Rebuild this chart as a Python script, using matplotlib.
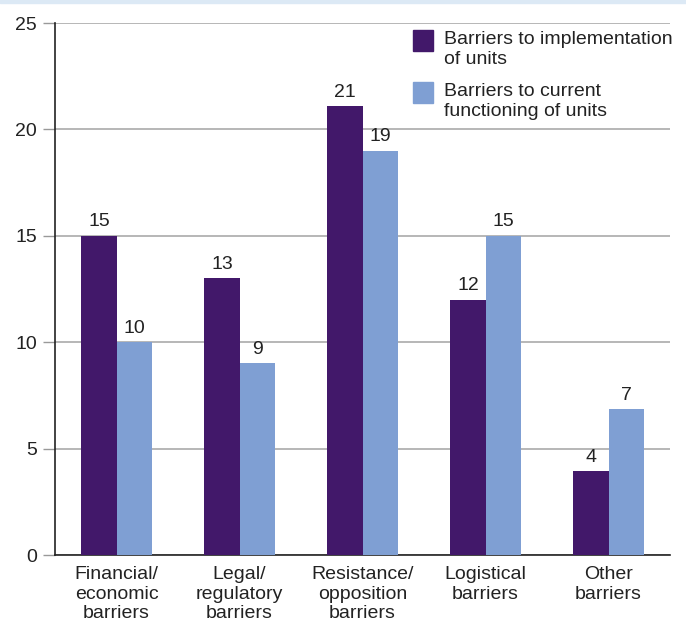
import numpy as np
import matplotlib
matplotlib.use("Agg")
import matplotlib.pyplot as plt
from matplotlib.patches import Rectangle

plt.rcParams['font.family'] = ['Liberation Sans', 'DejaVu Sans']

# data
categories = ["Financial/\neconomic\nbarriers", "Legal/\nregulatory\nbarriers",
              "Resistance/\nopposition\nbarriers", "Logistical\nbarriers",
              "Other\nbarriers"]
implementation = [15, 13, 21.1, 12, 3.95]
functioning = [10, 9, 19, 15, 6.85]
impl_labels = ["15", "13", "21", "12", "4"]
func_labels = ["10", "9", "19", "15", "7"]
series_names = ["Barriers to implementation\nof units",
                "Barriers to current\nfunctioning of units"]
yticks = [0, 5, 10, 15, 20, 25]

c_dark = "#42186a"
c_light = "#7f9fd3"
txt = "#222222"

W, H = 686, 625
fig = plt.figure(figsize=(W / 100, H / 100), dpi=100)
ax = fig.add_axes([55 / W, 70 / H, 615 / W, 532 / H])

def fx(px):
    return px / W

def fy(py):
    # py measured from the top of the image
    return 1 - py / H

# light band at the very top
fig.patches.append(Rectangle((0, fy(3)), 1, 3 / H, transform=fig.transFigure,
                             color="#dce9f5", zorder=0))

x = np.arange(len(categories)) + 0.5
w = 0.285
b1 = ax.bar(x - w / 2, implementation, w, color=c_dark, zorder=3)
b2 = ax.bar(x + w / 2, functioning, w, color=c_light, zorder=3)

for bars, labs in ((b1, impl_labels), (b2, func_labels)):
    for r, t in zip(bars, labs):
        ax.text(r.get_x() + r.get_width() / 2, r.get_height() + 0.25, t,
                ha="center", va="bottom", fontsize=14, color=txt)

ax.set_xlim(0, 5)
ax.set_ylim(0, 25)
ax.set_yticks(yticks)
ax.set_xticks(x)
ax.set_xticklabels(categories, fontsize=14, color=txt, linespacing=1.2)
ax.tick_params(axis="x", length=0, pad=8)
ax.tick_params(axis="y", length=9, width=1, color="#999999", labelsize=14,
               labelcolor=txt, pad=4)
ax.yaxis.grid(True, color="#aaaaaa", linewidth=1.2, zorder=0)
ax.set_axisbelow(True)
for s in ("top", "right"):
    ax.spines[s].set_visible(False)
for s in ("left", "bottom"):
    ax.spines[s].set_color(txt)
    ax.spines[s].set_linewidth(1.2)

# legend drawn by hand: square aligned with the first text line
leg_tops = [30, 82]
for top, name, col in zip(leg_tops, series_names, (c_dark, c_light)):
    fig.patches.append(Rectangle((fx(413), fy(top + 21)), 20 / W, 21 / H,
                                 transform=fig.transFigure, color=col, zorder=5))
    for i, line in enumerate(name.split("\n")):
        fig.text(fx(444), fy(top + 10 + i * 20), line, fontsize=14, color=txt,
                 ha="left", va="center", zorder=6)

fig.savefig("out.png", dpi=100)
